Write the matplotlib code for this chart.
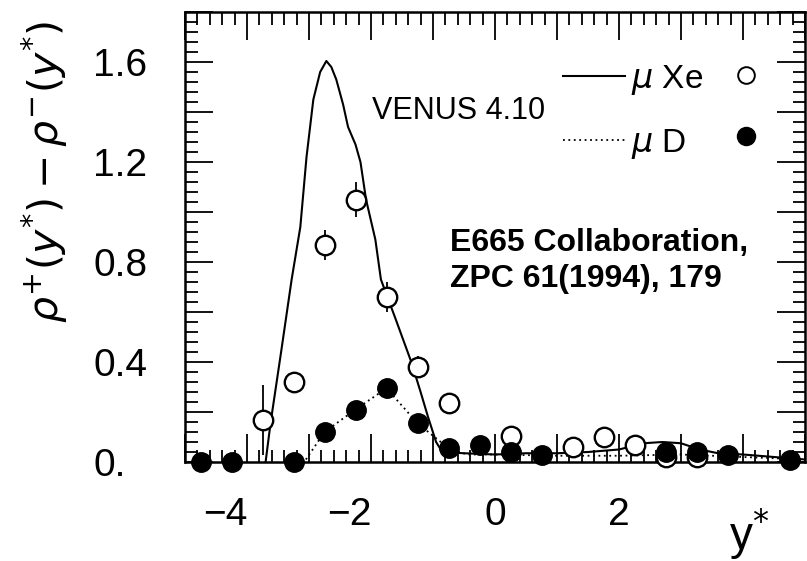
import matplotlib
matplotlib.use('Agg')
import matplotlib.pyplot as plt
import matplotlib.transforms as mtransforms
from matplotlib.font_manager import FontProperties
from matplotlib.lines import Line2D
from matplotlib.ticker import MultipleLocator
import numpy as np

plt.rcParams['font.family'] = ['Liberation Sans', 'DejaVu Sans']
plt.rcParams['mathtext.fontset'] = 'dejavusans'

# mu Xe data (open circles)
xe_x = [-3.75, -3.25, -2.75, -2.25, -1.75, -1.25, -0.75, 0.25, 1.25, 1.75, 2.25, 2.75, 3.25]
xe_y = [0.17, 0.32, 0.87, 1.05, 0.66, 0.38, 0.235, 0.105, 0.06, 0.10, 0.07, 0.02, 0.02]
xe_err = [0.14, 0.03, 0.06, 0.07, 0.06, 0.045, 0.04, 0.035, 0.03, 0.035, 0.03, 0.02, 0.02]

# mu D data (filled circles)
d_x = [-4.75, -4.25, -3.25, -2.75, -2.25, -1.75, -1.25, -0.75, -0.25, 0.25, 0.75, 2.75, 3.25, 3.75, 4.75]
d_y = [0.0, 0.0, 0.0, 0.12, 0.21, 0.295, 0.155, 0.055, 0.07, 0.04, 0.03, 0.04, 0.04, 0.03, 0.01]
d_err = [0.01, 0.01, 0.01, 0.02, 0.02, 0.02, 0.02, 0.02, 0.035, 0.02, 0.02, 0.02, 0.02, 0.02, 0.01]

# VENUS 4.10, mu Xe (solid)
vxe_x = [-3.70, -3.62, -3.45, -3.28, -3.14, -3.04, -2.93, -2.82, -2.72, -2.64, -2.56, -2.45,
         -2.37, -2.25, -2.17, -2.08, -1.93, -1.84, -1.6, -1.35, -1.2, -1.08, -0.95, -0.85,
         -0.5, 0.0, 0.5, 1.0, 1.5, 2.0, 2.4, 2.7, 3.0, 3.3, 3.6, 4.0, 4.5, 5.0]
vxe_y = [0.0, 0.156, 0.44, 0.73, 0.94, 1.22, 1.45, 1.56, 1.604, 1.58, 1.53, 1.43,
         1.34, 1.27, 1.2, 1.05, 0.89, 0.73, 0.57, 0.40, 0.28, 0.18, 0.08, 0.04,
         0.035, 0.03, 0.035, 0.035, 0.04, 0.05, 0.075, 0.08, 0.075, 0.05, 0.035, 0.03, 0.02, 0.01]

# VENUS 4.10, mu D (dotted)
vd_x = [-3.05, -2.75, -2.25, -1.75, -1.25, -0.75, -0.45, 0.0, 1.0, 2.0, 3.0, 4.0, 5.0]
vd_y = [0.01, 0.12, 0.21, 0.295, 0.155, 0.055, 0.03, 0.03, 0.025, 0.025, 0.03, 0.02, 0.01]

ytick_vals = [0.0, 0.2, 0.4, 0.6, 0.8, 1.0, 1.2, 1.4, 1.6, 1.8]
ytick_labels = ['0.', '', '0.4', '', '0.8', '', '1.2', '', '1.6', '']
xtick_vals = [-5, -4, -3, -2, -1, 0, 1, 2, 3, 4, 5]
xtick_labels = ['', '\u22124', '', '\u22122', '', '0', '', '2', '', '', '']

W, H = 807, 561
fig = plt.figure(figsize=(W / 100, H / 100), dpi=100)
ax = fig.add_axes([185 / W, 1 - 462 / H, (805 - 185) / W, (462 - 12) / H])

ax.plot(vxe_x, vxe_y, color='black', lw=1.5, zorder=3)
ax.plot(vd_x, vd_y, color='black', lw=1.3, linestyle=(0, (1, 2)), zorder=3)

ax.errorbar(xe_x, xe_y, yerr=xe_err, fmt='o', ms=14, mfc='white', mec='black', mew=1.7,
            ecolor='black', elinewidth=1.3, capsize=0, zorder=4, clip_on=False)
ax.errorbar(d_x, d_y, yerr=d_err, fmt='o', ms=14, mfc='black', mec='black',
            ecolor='black', elinewidth=1.3, capsize=0, zorder=5, clip_on=False)

ax.set_xlim(-5, 5)
ax.set_ylim(0, 1.8)

ax.set_xticks(xtick_vals)
ax.set_xticklabels(xtick_labels)
ax.xaxis.set_minor_locator(MultipleLocator(0.2))
ax.set_yticks(ytick_vals)
ax.set_yticklabels(ytick_labels, ha='left')
ax.yaxis.set_minor_locator(MultipleLocator(0.04))

ax.tick_params(which='both', direction='in', top=True, right=True, width=1.3)
ax.tick_params(which='major', length=20)
ax.tick_params(which='minor', length=9)
ax.tick_params(axis='y', which='major', labelsize=28, pad=66)
ax.tick_params(axis='x', which='major', labelsize=28, pad=25)

# shift the negative labels so the digit sits under its tick
shift = mtransforms.ScaledTranslation(-22 / 100, 0, fig.dpi_scale_trans)
for lab in ax.get_xticklabels():
    if lab.get_text().startswith('\u2212'):
        lab.set_transform(lab.get_transform() + shift)

for s in ax.spines.values():
    s.set_linewidth(1.8)

ax.set_ylabel(r'$\rho^{+}(y^{*})-\rho^{-}(y^{*})$', fontsize=29.5, labelpad=0)
ax.yaxis.set_label_coords(-0.185, 0.645)

ax.text(4.1, -0.18, r'y$^{*}$', fontsize=33, ha='center', va='top', clip_on=False)

ax.text(-1.98, 1.405, 'VENUS 4.10', fontsize=22, ha='left', va='center')

ax.text(-0.72, 0.805, 'E665 Collaboration,\nZPC 61(1994), 179', fontsize=23,
        fontweight='bold', ha='left', va='center', linespacing=1.28)

# legend: line, label, then marker
leg_font = FontProperties(family='Liberation Sans', size=24, math_fontfamily='dejavusans')
h_lines = [Line2D([], [], color='black', lw=1.5),
           Line2D([], [], color='black', lw=1.3, linestyle=(0, (1, 2)))]
leg1 = ax.legend(h_lines, [r'$\mu$ Xe', r'$\mu$ D'], frameon=False, prop=leg_font,
                 handlelength=1.85, handletextpad=0.2, labelspacing=0.9,
                 loc='upper left', bbox_to_anchor=(563 / W, 1 - 63 / H),
                 bbox_transform=fig.transFigure, borderpad=0, borderaxespad=0)
ax.add_artist(leg1)
h_marks = [Line2D([], [], ls='', marker='o', ms=12, mfc='white', mec='black', mew=1.4),
           Line2D([], [], ls='', marker='o', ms=13, mfc='black', mec='black')]
ax.legend(h_marks, [' ', ' '], frameon=False, prop=leg_font, handlelength=1,
          handletextpad=0, labelspacing=0.9, loc='upper left',
          bbox_to_anchor=(729 / W, 1 - 63 / H), bbox_transform=fig.transFigure,
          borderpad=0, borderaxespad=0)

fig.savefig('out.png', dpi=100)
